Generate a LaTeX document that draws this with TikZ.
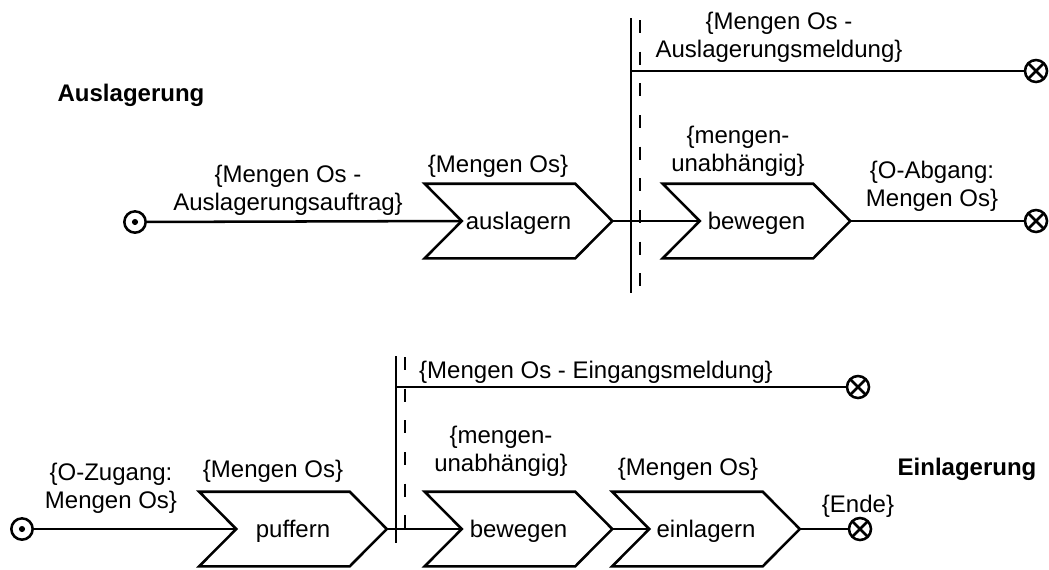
\documentclass[tikz,border=0pt]{standalone}
\usepackage{fontspec}
\setmainfont{Liberation Sans}
\begin{document}
\begin{tikzpicture}[x=0.75pt,y=-0.75pt,
  every node/.style={font=\fontsize{18}{21}\selectfont},
  flow/.style={line width=1.9pt},
  stepbox/.style={inner sep=0pt, minimum width=140.25pt, minimum height=55.5pt,
    text height=12.6pt, text depth=0pt},
  chevline/.style={line width=1.9pt, line join=miter},
  note/.style={align=center, inner sep=0pt},
  sectitle/.style={font=\fontsize{18}{21}\selectfont\bfseries, inner sep=0pt},
  startpt/.style={circle, draw, line width=1.9pt, minimum size=16pt, inner sep=0pt,
    path picture={\fill (path picture bounding box.center) circle (2.3pt);}},
  endpt/.style={circle, draw, line width=1.9pt, minimum size=16.5pt, inner sep=0pt,
    path picture={\draw[line width=1.9pt]
      ([shift={(45:9pt)}]path picture bounding box.center) -- ([shift={(225:9pt)}]path picture bounding box.center)
      ([shift={(135:9pt)}]path picture bounding box.center) -- ([shift={(-45:9pt)}]path picture bounding box.center);}},
  forkbar/.style={line width=2.1pt},
  forkdash/.style={line width=2pt, dash pattern=on 9.75pt off 14pt}
]
\useasboundingbox (0,0) rectangle (1049,569);

% ---------- Auslagerung ----------
\node[sectitle] (tA) at (131,95) {Auslagerung};

\node[stepbox] (aus)  at (518.5,221) {auslagern};
\node[stepbox] (bewA) at (756.5,221) {bewegen};

\node[startpt] (s1) at (135,222) {};
\node[endpt]   (e1) at (1036,71) {};
\node[endpt]   (e2) at (1036,221) {};

\coordinate (barAtop) at (631,18);
\coordinate (barAbot) at (631,293);
\coordinate (dashAtop) at (640,20);
\coordinate (dashAbot) at (640,290);
\draw[forkbar] (barAtop) -- (barAbot);
\draw[forkdash] (dashAtop) -- (dashAbot);

\draw[flow] (s1) -- ([xshift=27.75pt]aus.west);
\draw[flow] (aus.east) -- ([xshift=27.75pt]bewA.west);
\draw[flow] (barAtop |- e1) -- (e1);
\draw[flow] (bewA.east) -- (e2);

\node[note] (lA1) at (288,190) {\{Mengen Os -\\Auslagerungsauftrag\}};
\node[note] (lA2) at (498,166) {\{Mengen Os\}};
\node[note] (lA3) at (779,37.5) {\{Mengen Os -\\Auslagerungsmeldung\}};
\node[note] (lA4) at (738,151) {\{mengen-\\unabhängig\}};
\node[note] (lA5) at (932,186) {\{O-Abgang:\\Mengen Os\}};

% ---------- Einlagerung ----------
\node[sectitle] (tB) at (967,469) {Einlagerung};

\node[stepbox] (puf)  at (293,529) {puffern};
\node[stepbox] (bewB) at (518.5,529) {bewegen};
\node[stepbox] (ein)  at (706,529) {einlagern};

\node[startpt] (s2) at (22,529) {};
\node[endpt]   (e3) at (858,387) {};
\node[endpt]   (e4) at (860,529) {};

\coordinate (barBtop) at (396,356);
\coordinate (barBbot) at (396,543);
\coordinate (dashBtop) at (405,357);
\coordinate (dashBbot) at (405,531);
\draw[forkbar] (barBtop) -- (barBbot);
\draw[forkdash] (dashBtop) -- (dashBbot);

\draw[flow] (s2) -- ([xshift=27.75pt]puf.west);
\draw[flow] (puf.east) -- ([xshift=27.75pt]bewB.west);
\draw[flow] (bewB.east) -- ([xshift=27.75pt]ein.west);
\draw[flow] (ein.east) -- (e4);
\draw[flow] (barBtop |- e3) -- (e3);

\node[note] (lB1) at (596,372) {\{Mengen Os - Eingangsmeldung\}};
\node[note] (lB2) at (111,488) {\{O-Zugang:\\Mengen Os\}};
\node[note] (lB3) at (273,471) {\{Mengen Os\}};
\node[note] (lB4) at (501,451) {\{mengen-\\unabhängig\}};
\node[note] (lB5) at (688,469) {\{Mengen Os\}};
\node[note] (lB6) at (858,506) {\{Ende\}};

% chevron outlines of the process steps
\foreach \n in {aus,bewA,puf,bewB,ein}
  \draw[chevline] (\n.north west) -- ([xshift=-27.75pt]\n.north east) -- (\n.east)
    -- ([xshift=-27.75pt]\n.south east) -- (\n.south west)
    -- ([xshift=27.75pt]\n.west) -- cycle;
\end{tikzpicture}
\end{document}
